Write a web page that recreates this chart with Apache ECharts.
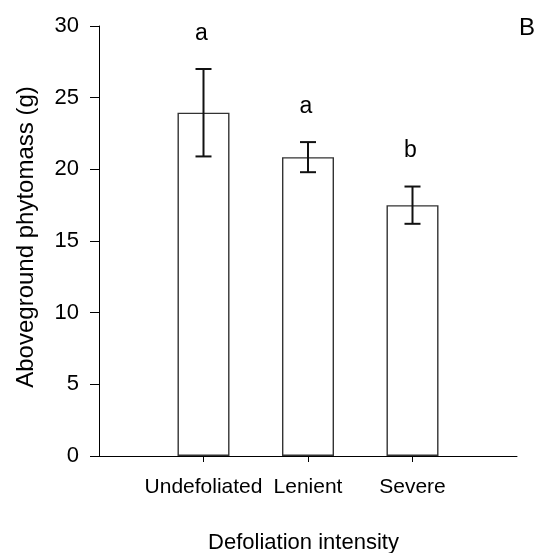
<!DOCTYPE html>
<html>
<head>
<meta charset="utf-8">
<script src="https://cdn.jsdelivr.net/npm/echarts@6/dist/echarts.min.js"></script>
<style>
  html, body { margin: 0; padding: 0; background: #fff; }
  #chart { width: 538px; height: 553px; }
</style>
</head>
<body>
<div id="chart"></div>
<script>
// Aboveground phytomass by defoliation treatment (mean ± SE)
const categories = ['Undefoliated', 'Lenient', 'Severe'];
const means = [23.95, 20.85, 17.5];
const errors = [3.05, 1.05, 1.3];
const letters = ['a', 'a', 'b'];
const yTicks = [0, 5, 10, 15, 20, 25, 30];

// The x axis has an empty slot on each side of the three treatments
const axisCats = [''].concat(categories, ['']);
const barData = ['-'].concat(means, ['-']);
const errData = means.map((m, i) => [i + 1, m - errors[i], m + errors[i]]);
const letterData = means.map((m, i) => [i + 1, m + errors[i], letters[i]]);

const FONT = '"Liberation Sans", Arial, sans-serif';
const chart = echarts.init(document.getElementById('chart'), null, { renderer: 'canvas' });

chart.setOption({
  backgroundColor: '#ffffff',
  animation: false,
  grid: { left: 99, right: 21, top: 26, bottom: 97, containLabel: false, outerBoundsMode: 'none' },
  xAxis: {
    type: 'category',
    data: axisCats,
    boundaryGap: false,
    name: 'Defoliation intensity',
    nameLocation: 'middle',
    nameGap: 76,
    nameTextStyle: { fontFamily: FONT, fontSize: 22, color: '#000', padding: [0, 9, 0, 0] },
    axisLine: { lineStyle: { color: '#000', width: 1 } },
    axisTick: {
      length: 6,
      interval: (idx) => idx > 0 && idx < axisCats.length - 1,
      lineStyle: { color: '#000' }
    },
    axisLabel: {
      interval: 0, margin: 21,
      fontFamily: FONT, fontSize: 21, color: '#000'
    },
    splitLine: { show: false }
  },
  yAxis: {
    type: 'value',
    min: yTicks[0],
    max: yTicks[yTicks.length - 1],
    interval: yTicks[1] - yTicks[0],
    name: 'Aboveground phytomass (g)',
    nameLocation: 'middle',
    nameGap: 61,
    nameTextStyle: { fontFamily: FONT, fontSize: 24, color: '#000', padding: [0, 0, 0, 8] },
    axisLine: { show: true, lineStyle: { color: '#000', width: 1 } },
    axisTick: { show: true, length: 9, lineStyle: { color: '#000' } },
    axisLabel: { margin: 20, fontFamily: FONT, fontSize: 22, color: '#000' },
    splitLine: { show: false }
  },
  graphic: [{
    type: 'text',
    right: 3, top: 16,
    style: { text: 'B', fontFamily: FONT, fontSize: 24, fill: '#000' }
  }],
  series: [
    {
      type: 'bar',
      data: barData,
      barWidth: 52,
      itemStyle: { color: '#fff', borderColor: '#333', borderWidth: 1.4 },
      z: 2
    },
    {
      type: 'custom',
      data: errData,
      z: 3,
      renderItem: (params, api) => {
        const x = api.value(0);
        const lo = api.coord([x, api.value(1)]);
        const hi = api.coord([x, api.value(2)]);
        const cap = 8;
        const style = { stroke: '#111', lineWidth: 2 };
        return {
          type: 'group',
          children: [
            { type: 'line', shape: { x1: lo[0], y1: lo[1], x2: hi[0], y2: hi[1] }, style },
            { type: 'line', shape: { x1: hi[0] - cap, y1: hi[1], x2: hi[0] + cap, y2: hi[1] }, style },
            { type: 'line', shape: { x1: lo[0] - cap, y1: lo[1], x2: lo[0] + cap, y2: lo[1] }, style }
          ]
        };
      }
    },
    {
      type: 'custom',
      data: letterData,
      z: 4,
      renderItem: (params, api) => {
        const p = api.coord([api.value(0), api.value(1)]);
        return {
          type: 'text',
          x: p[0] - 2,
          y: p[1] - 24,
          style: {
            text: letterData[params.dataIndex][2],
            fontFamily: FONT, fontSize: 23, fill: '#000',
            align: 'center', verticalAlign: 'bottom'
          }
        };
      }
    }
  ]
});
</script>
</body>
</html>
